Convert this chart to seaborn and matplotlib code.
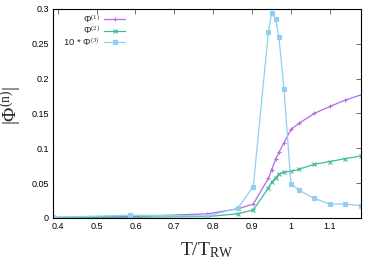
import numpy as np
import pandas as pd
import matplotlib
matplotlib.use("Agg")
import matplotlib.pyplot as plt
import seaborn as sns

# --- data ---
t_ratio = [0.388, 0.586, 0.785, 0.863, 0.903, 0.942, 0.950, 0.961, 0.969,
           0.982, 1.000, 1.021, 1.060, 1.100, 1.139, 1.179]
phi1 = [0.001, 0.002, 0.006, 0.013, 0.020, 0.057, 0.069, 0.085, 0.094,
        0.108, 0.127, 0.136, 0.150, 0.160, 0.169, 0.1765]
phi2 = [0.0005, 0.001, 0.002, 0.006, 0.0115, 0.043, 0.051, 0.058, 0.063,
        0.066, 0.067, 0.070, 0.077, 0.081, 0.085, 0.089]
phi3x10 = [0.001, 0.004, 0.003, 0.014, 0.045, 0.267, 0.294, 0.2856, 0.259,
           0.185, 0.0488, 0.040, 0.028, 0.020, 0.020, 0.0177]

labels = ["Φ$^{(1)}$", "Φ$^{(2)}$", "10 * Φ$^{(3)}$"]
colors = ["#b36ae2", "#3dbb95", "#8fd0f2"]
markers = ["+", "x", "s"]

sns.set_theme(style="white")
plt.rcParams["font.family"] = ["Liberation Sans", "DejaVu Sans"]
plt.rcParams["mathtext.fontset"] = "custom"
plt.rcParams["mathtext.rm"] = "Liberation Serif"
plt.rcParams["mathtext.it"] = "Liberation Serif"

fig = plt.figure(figsize=(3.74, 2.62), dpi=100)
ax = fig.add_axes([0.142, 0.168, 0.823, 0.798])

for lab, vals, col, mk in zip(labels, [phi1, phi2, phi3x10], colors, markers):
    sns.lineplot(x=t_ratio, y=vals, color=col, marker=mk, label=lab,
                 linewidth=0.9, markersize=3.5 if mk != "s" else 2.5,
                 markeredgewidth=0.8, markeredgecolor=col, ax=ax)

ax.set_xlim(0.388, 1.18)
ax.set_ylim(0, 0.3)
ax.set_xticks([0.4, 0.5, 0.6, 0.7, 0.8, 0.9, 1.0, 1.1])
ax.set_xticklabels(["0.4", "0.5", "0.6", "0.7", "0.8", "0.9", "1", "1.1"])
ax.set_yticks([0, 0.05, 0.1, 0.15, 0.2, 0.25, 0.3])
ax.set_yticklabels(["0", "0.05", "0.1", "0.15", "0.2", "0.25", "0.3"])
ax.tick_params(direction="in", length=3.5, width=0.6, labelsize=6.5,
               top=True, right=True, colors="#555555", labelcolor="black", pad=3)
for s in ax.spines.values():
    s.set_linewidth(0.8)
    s.set_color("black")

ax.set_xlabel(r"T/T$_{\rm RW}$", fontsize=14, family="Liberation Serif")
ax.xaxis.set_label_coords(0.5, -0.105)
ax.set_ylabel("|Φ$^{\\rm (n)}$|", fontsize=14, family="Liberation Serif")
ax.yaxis.set_label_coords(-0.095, 0.54)

leg = ax.legend(loc="upper left", bbox_to_anchor=(0.015, 1.005), frameon=False,
                fontsize=6.8, markerfirst=False, handlelength=2.3,
                labelspacing=0.0, handletextpad=0.4, borderaxespad=0.2)
leg._legend_box.align = "right"

fig.savefig("out.png", dpi=100)
